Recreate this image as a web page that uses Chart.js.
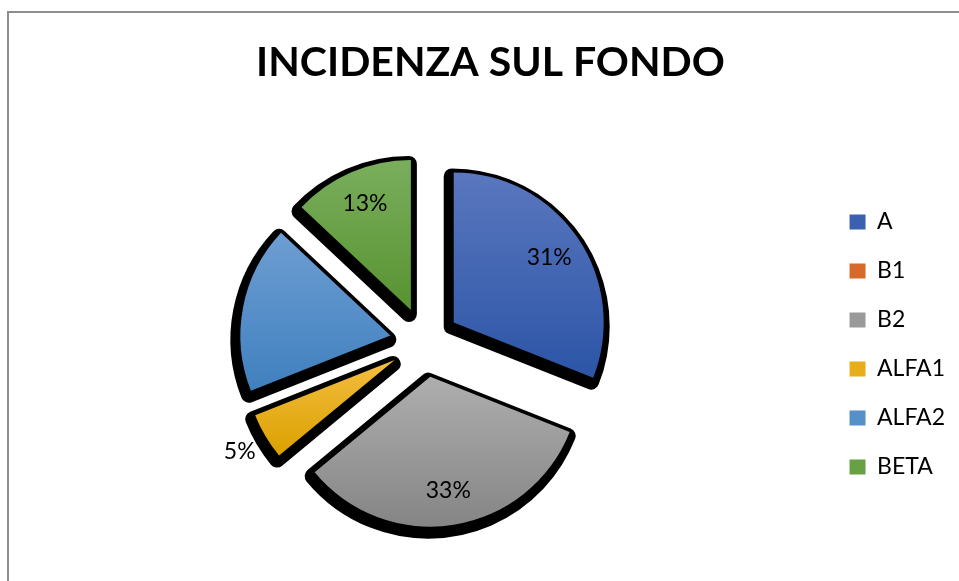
<!DOCTYPE html>
<html><head><meta charset="utf-8">
<script src="https://cdn.jsdelivr.net/npm/chart.js@4.4.0/dist/chart.umd.min.js"></script>
<style>
html,body{margin:0;padding:0;width:959px;height:581px;overflow:hidden;background:#fff;}
#frame{position:absolute;left:7px;top:11px;width:1000px;height:700px;border-left:2px solid #8e8e8e;border-top:2px solid #8e8e8e;}
#wrap{position:absolute;left:9px;top:13px;width:960px;height:570px;}
</style></head><body>
<div id="frame"></div>
<div id="wrap"><canvas id="c"></canvas></div>
<script>
// ---- data ----
const categories = ['A', 'B1', 'B2', 'ALFA1', 'ALFA2', 'BETA'];
const shares = [31, 0, 33, 5, 18, 13];
const dataLabels = ['31%', '', '33%', '5%', '', '13%'];
const chartTitle = 'INCIDENZA SUL FONDO';

// ---- styles ----
const midColors = ['#3b60b0', '#d8692b', '#9a9a9a', '#e8ad1a', '#5590c8', '#68a046'];
const topColors = ['#5a77bf', '#e27b3d', '#aeaeae', '#f4bd40', '#6e9ed3', '#7aae5c'];
const botColors = ['#2c55a6', '#c55a1c', '#858585', '#dba100', '#3f80be', '#579331'];
const EXPLODE = 35;
const FONT = 'Lato';

const explodePlugin = {
  id: 'explode',
  beforeDatasetsDraw(chart) {
    const ctx = chart.ctx;
    const meta = chart.getDatasetMeta(0);
    meta.data.forEach((arc, i) => {
      const p = arc.getProps(['x', 'y', 'startAngle', 'endAngle', 'outerRadius']);
      const mid = (p.startAngle + p.endAngle) / 2;
      arc.$dx = Math.cos(mid) * EXPLODE;
      arc.$dy = Math.sin(mid) * EXPLODE;
      if (!arc.$patched) {
        arc.$patched = true;
        const orig = Chart.ArcElement.prototype.draw;
        arc.draw = function (c, area) {
          c.save();
          c.translate(this.$dx, this.$dy);
          orig.call(this, c, area);
          c.restore();
        };
      }
      if (p.endAngle - p.startAngle <= 0) return;
      let minY = p.y, maxY = p.y;
      for (let k = 0; k <= 40; k++) {
        const a = p.startAngle + (p.endAngle - p.startAngle) * k / 40;
        const yy = p.y + Math.sin(a) * p.outerRadius;
        minY = Math.min(minY, yy); maxY = Math.max(maxY, yy);
      }
      const g = ctx.createLinearGradient(0, minY, 0, maxY);
      g.addColorStop(0, topColors[i]);
      g.addColorStop(1, botColors[i]);
      try { arc.options.backgroundColor = g; } catch (e) {}
      ctx.save();
      ctx.translate(arc.$dx - 2, arc.$dy + 4);
      ctx.beginPath();
      ctx.moveTo(p.x, p.y);
      ctx.arc(p.x, p.y, p.outerRadius, p.startAngle, p.endAngle);
      ctx.closePath();
      ctx.fillStyle = '#000';
      ctx.strokeStyle = '#000';
      ctx.lineWidth = 16;
      ctx.lineJoin = 'round';
      ctx.fill();
      ctx.stroke();
      ctx.restore();
    });
  },
  afterDatasetsDraw(chart) {
    const ctx = chart.ctx;
    const meta = chart.getDatasetMeta(0);
    const total = shares.reduce((s, v) => s + v, 0);
    ctx.save();
    ctx.font = '23px ' + FONT;
    ctx.fillStyle = '#000';
    ctx.textAlign = 'center';
    ctx.textBaseline = 'middle';
    meta.data.forEach((arc, i) => {
      const txt = dataLabels[i];
      if (!txt) return;
      const p = arc.getProps(['x', 'y', 'startAngle', 'endAngle', 'outerRadius']);
      const mid = (p.startAngle + p.endAngle) / 2;
      const inside = shares[i] / total >= 0.08;
      const dist = inside ? EXPLODE + p.outerRadius * 0.77 : EXPLODE + p.outerRadius + 30;
      ctx.fillText(txt, p.x + Math.cos(mid) * dist, p.y + Math.sin(mid) * dist);
    });
    ctx.restore();
  }
};

new Chart(document.getElementById('c'), {
  type: 'pie',
  data: {
    labels: categories,
    datasets: [{
      data: shares,
      backgroundColor: midColors,
      borderWidth: 0
    }]
  },
  options: {
    responsive: true,
    maintainAspectRatio: false,
    animation: false,
    radius: 150,
    layout: { padding: { left: 17, right: 14, top: 0, bottom: 23 } },
    plugins: {
      title: {
        display: true,
        text: chartTitle,
        color: '#000',
        font: { family: FONT, size: 41, weight: 'bold', lineHeight: 1.2 },
        padding: { top: 25, bottom: 37 }
      },
      legend: {
        position: 'right',
        title: { display: true, text: '', font: { size: 10 }, padding: { top: 0, bottom: 104 } },
        labels: {
          boxWidth: 16,
          boxHeight: 15,
          padding: 26,
          color: '#000',
          font: { family: FONT, size: 23 }
        }
      },
      tooltip: { enabled: false }
    }
  },
  plugins: [explodePlugin]
});
</script>
</body></html>
